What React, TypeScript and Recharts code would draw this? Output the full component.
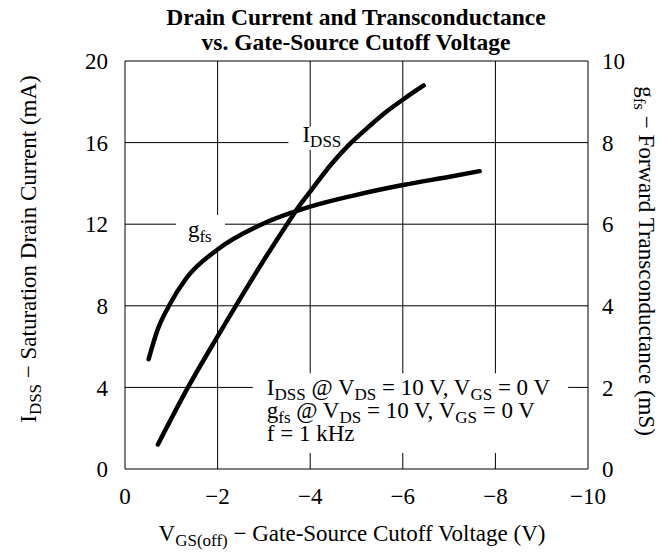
import { LineChart, Line, XAxis, YAxis, CartesianGrid, ReferenceArea } from 'recharts';

// V_GS(off) in volts, I_DSS in mA
const idssVgs = [-0.71, -1.36, -2.0, -2.96, -3.5, -3.75, -4.0, -4.46, -4.82, -5.3, -5.61, -6.0, -6.45];
const idssMa = [1.2, 4.0, 6.5, 10.1, 12.0, 12.85, 13.6, 14.95, 15.85, 16.85, 17.45, 18.1, 18.8];

// V_GS(off) in volts, g_fs in mS
const gfsVgs = [-0.51, -0.7, -0.95, -1.32, -2.0, -2.96, -4.0, -5.0, -6.0, -7.04, -7.66];
const gfsMs = [2.69, 3.4, 4.0, 4.67, 5.38, 6.0, 6.43, 6.72, 6.96, 7.17, 7.3];

const vgsTicks = [0, -2, -4, -6, -8, -10];
const idssTicks = [0, 4, 8, 12, 16, 20];
const gfsTicks = [0, 2, 4, 6, 8, 10];

const idssData = idssVgs.map((v, i) => ({ v, y: idssMa[i] }));
const gfsData = gfsVgs.map((v, i) => ({ v, y: gfsMs[i] }));

const FONT = '"Liberation Serif", "Times New Roman", serif';
const SIZE = 23;
const SUB = 17;
const SHIFT = 5;
const tickStyle = { fill: '#000', fontSize: SIZE, fontFamily: FONT };

const fmtV = (v: number) => (v === 0 ? '0' : '\u2212' + Math.abs(v));

// text pieces: [string, isSubscript]
type Piece = [string, boolean];
function pieces(list: Piece[], x?: number, y?: number) {
  let down = false;
  return list.map(([s, sub], i) => {
    let dy = 0;
    if (sub && !down) { dy = SHIFT; down = true; }
    else if (!sub && down) { dy = -SHIFT; down = false; }
    const first = i === 0;
    return (
      <tspan
        key={i}
        x={first ? x : undefined}
        y={first ? y : undefined}
        dy={dy || undefined}
        fontSize={sub ? SUB : undefined}
      >
        {s}
      </tspan>
    );
  });
}

const legendLines: Piece[][] = [
  [['I', false], ['DSS', true], [' @ V', false], ['DS', true], [' = 10 V, V', false], ['GS', true], [' = 0 V', false]],
  [['g', false], ['fs', true], [' @ V', false], ['DS', true], [' = 10 V, V', false], ['GS', true], [' = 0 V', false]],
  [['f = 1 kHz', false]],
];

function Titles() {
  return (
    <g fontFamily={FONT} fill="#000">
      <text x={356} y={25} textAnchor="middle" fontSize={23.5} fontWeight="bold">
        Drain Current and Transconductance
      </text>
      <text x={356} y={50} textAnchor="middle" fontSize={23.5} fontWeight="bold">
        vs. Gate-Source Cutoff Voltage
      </text>
      <text x={352} y={541} textAnchor="middle" fontSize={SIZE}>
        {pieces([['V', false], ['GS(off)', true], [' − Gate-Source Cutoff Voltage (V)', false]])}
      </text>
      <text transform="translate(36,249) rotate(-90)" textAnchor="middle" fontSize={SIZE}>
        {pieces([['I', false], ['DSS', true], [' − Saturation Drain Current (mA)', false]])}
      </text>
      <text transform="translate(639,261) rotate(90)" textAnchor="middle" fontSize={SIZE}>
        {pieces([['g', false], ['fs', true], [' − Forward Transconductance (mS)', false]])}
      </text>
    </g>
  );
}

const legendLabel = ({ viewBox }: any) => {
  const { x, y } = viewBox;
  return (
    <g fontFamily={FONT} fontSize={SIZE} fill="#000">
      {legendLines.map((line, i) => (
        <text key={i}>{pieces(line, x + 14, y + 22 + i * 23)}</text>
      ))}
    </g>
  );
};

const idssLabel = ({ viewBox }: any) => (
  <text fontFamily={FONT} fontSize={SIZE} fill="#000">
    {pieces([['I', false], ['DSS', true]], viewBox.x + 14, viewBox.y + 15)}
  </text>
);

const gfsLabel = ({ viewBox }: any) => (
  <text fontFamily={FONT} fontSize={SIZE} fill="#000">
    {pieces([['g', false], ['fs', true]], viewBox.x + 12, viewBox.y + 22)}
  </text>
);

export default function App() {
  return (
    <div style={{ position: 'absolute', left: 0, top: 0, width: 660, height: 552, background: '#fff' }}>
      <LineChart width={660} height={552} margin={{ top: 61, right: 12, bottom: 43, left: 65 }}>
        <CartesianGrid yAxisId="left" stroke="#000" strokeWidth={1} />
        <XAxis
          dataKey="v"
          type="number"
          domain={[-10, 0]}
          reversed
          ticks={vgsTicks}
          tickFormatter={fmtV}
          height={40}
          tickLine={false}
          axisLine={false}
          tickSize={0}
          tickMargin={19}
          tick={tickStyle}
          allowDataOverflow
        />
        <YAxis
          yAxisId="left"
          domain={[0, 20]}
          ticks={idssTicks}
          width={60}
          tickLine={false}
          axisLine={false}
          tickSize={0}
          tickMargin={17}
          tick={tickStyle}
        />
        <YAxis
          yAxisId="right"
          orientation="right"
          domain={[0, 10]}
          ticks={gfsTicks}
          width={60}
          tickLine={false}
          axisLine={false}
          tickSize={0}
          tickMargin={14}
          tick={{ ...tickStyle, textAnchor: 'start' }}
        />
        <ReferenceArea yAxisId="left" x1={-2.76} x2={-9.57} y1={0.78} y2={4.69} fill="#fff" fillOpacity={1} stroke="none" label={legendLabel} />
        <ReferenceArea yAxisId="left" x1={-3.53} x2={-4.86} y1={15.64} y2={16.78} fill="#fff" fillOpacity={1} stroke="none" label={idssLabel} />
        <ReferenceArea yAxisId="left" x1={-1.1} x2={-2.16} y1={10.88} y2={12.45} fill="#fff" fillOpacity={1} stroke="none" label={gfsLabel} />
        <Line
          yAxisId="left"
          data={idssData}
          dataKey="y"
          type="monotone"
          stroke="#000"
          strokeWidth={4.5}
          strokeLinecap="round"
          dot={false}
          activeDot={false}
          isAnimationActive={false}
        />
        <Line
          yAxisId="right"
          data={gfsData}
          dataKey="y"
          type="monotone"
          stroke="#000"
          strokeWidth={4.5}
          strokeLinecap="round"
          dot={false}
          activeDot={false}
          isAnimationActive={false}
        />
        <Titles />
      </LineChart>
    </div>
  );
}
